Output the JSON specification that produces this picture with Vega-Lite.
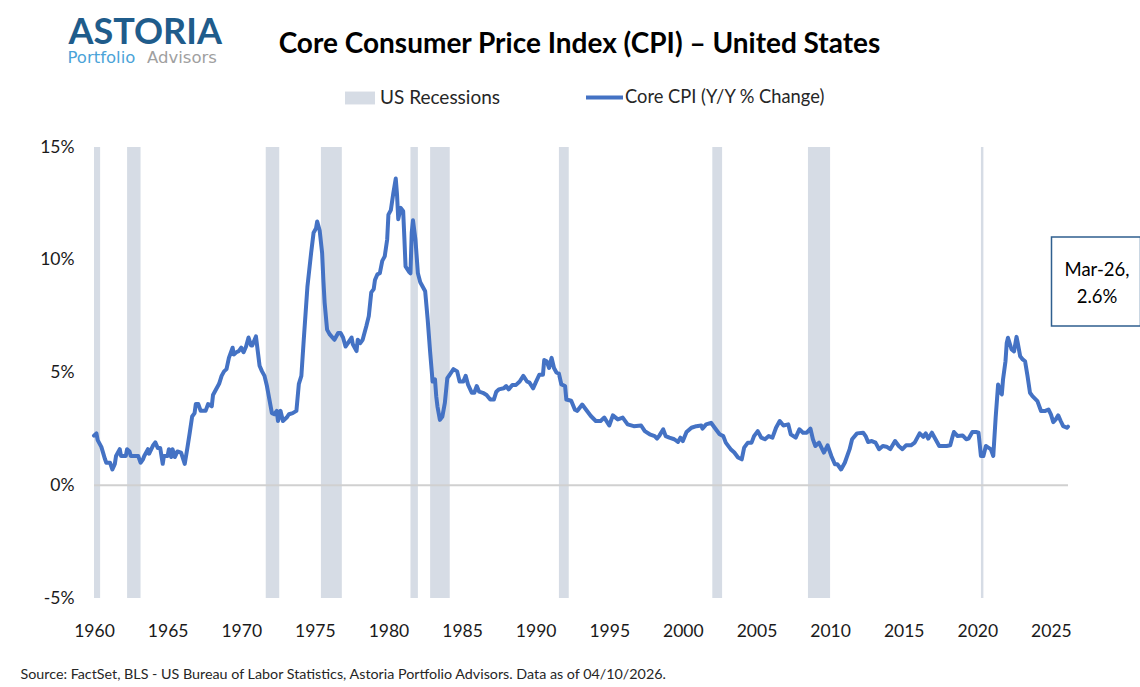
{
  "$schema": "https://vega.github.io/schema/vega-lite/v6.json",
  "width": 974,
  "height": 451,
  "autosize": {"type": "none"},
  "padding": {"left": 94, "top": 147, "right": 72, "bottom": 89},
  "background": "#ffffff",
  "config": {
    "view": {"stroke": null},
    "font": "Lato",
    "axis": {"grid": false, "domain": false, "ticks": false, "tickSize": 0}
  },
  "title": {
    "text": "Advisors",
    "anchor": "start",
    "frame": "bounds",
    "offset": 0,
    "dx": 127,
    "dy": 65,
    "baseline": "alphabetic",
    "font": "DejaVu Sans",
    "fontSize": 16.5,
    "fontWeight": "normal",
    "color": "#a0a0a0"
  },
  "datasets": {
    "cpi": [
      {"date":"1960-01","v":2.2},{"date":"1960-03","v":2.3},{"date":"1960-04","v":2.0},{"date":"1960-07","v":1.7},{"date":"1960-10","v":1.15},{"date":"1960-11","v":1.0},
      {"date":"1961-02","v":1.0},{"date":"1961-04","v":0.7},{"date":"1961-06","v":0.95},{"date":"1961-07","v":1.3},{"date":"1961-10","v":1.6},{"date":"1961-11","v":1.3},
      {"date":"1962-03","v":1.3},{"date":"1962-04","v":1.6},{"date":"1962-06","v":1.5},{"date":"1962-07","v":1.3},
      {"date":"1963-01","v":1.3},{"date":"1963-03","v":1.0},{"date":"1963-05","v":1.15},{"date":"1963-06","v":1.3},{"date":"1963-09","v":1.6},{"date":"1963-10","v":1.4},
      {"date":"1964-01","v":1.75},{"date":"1964-03","v":1.9},{"date":"1964-05","v":1.65},{"date":"1964-07","v":1.65},{"date":"1964-09","v":0.95},{"date":"1964-10","v":1.3},
      {"date":"1965-01","v":1.3},{"date":"1965-02","v":1.6},{"date":"1965-04","v":1.25},{"date":"1965-05","v":1.6},{"date":"1965-07","v":1.25},{"date":"1965-09","v":1.5},{"date":"1965-12","v":1.45},
      {"date":"1966-03","v":0.95},{"date":"1966-05","v":1.6},{"date":"1966-07","v":2.3},{"date":"1966-09","v":3.05},{"date":"1966-11","v":3.2},{"date":"1966-12","v":3.6},
      {"date":"1967-02","v":3.6},{"date":"1967-04","v":3.3},{"date":"1967-08","v":3.3},{"date":"1967-10","v":3.6},
      {"date":"1968-01","v":3.5},{"date":"1968-02","v":4.0},{"date":"1968-05","v":4.3},{"date":"1968-07","v":4.5},{"date":"1968-09","v":4.85},{"date":"1968-11","v":5.05},
      {"date":"1969-01","v":5.15},{"date":"1969-03","v":5.65},{"date":"1969-06","v":6.1},{"date":"1969-07","v":5.8},{"date":"1969-09","v":5.9},{"date":"1969-11","v":5.95},
      {"date":"1970-01","v":6.1},{"date":"1970-03","v":5.9},{"date":"1970-05","v":6.15},{"date":"1970-07","v":6.55},{"date":"1970-09","v":6.2},{"date":"1970-10","v":6.2},
      {"date":"1971-01","v":6.6},{"date":"1971-02","v":6.15},{"date":"1971-04","v":5.3},{"date":"1971-06","v":5.05},{"date":"1971-08","v":4.85},{"date":"1971-10","v":4.4},
      {"date":"1972-01","v":3.5},{"date":"1972-02","v":3.2},{"date":"1972-04","v":3.15},{"date":"1972-06","v":3.3},{"date":"1972-07","v":2.85},{"date":"1972-09","v":3.3},{"date":"1972-11","v":2.85},
      {"date":"1973-02","v":3.0},{"date":"1973-04","v":3.15},{"date":"1973-07","v":3.2},{"date":"1973-10","v":3.3},{"date":"1973-12","v":4.5},
      {"date":"1974-02","v":4.85},{"date":"1974-04","v":6.45},{"date":"1974-07","v":8.8},{"date":"1974-10","v":10.3},{"date":"1974-12","v":11.2},
      {"date":"1975-02","v":11.4},{"date":"1975-03","v":11.7},{"date":"1975-05","v":11.3},{"date":"1975-07","v":10.3},{"date":"1975-08","v":9.1},{"date":"1975-09","v":8.1},{"date":"1975-11","v":6.9},
      {"date":"1976-01","v":6.7},{"date":"1976-05","v":6.45},{"date":"1976-08","v":6.75},{"date":"1976-10","v":6.75},{"date":"1976-12","v":6.55},
      {"date":"1977-02","v":6.15},{"date":"1977-04","v":6.3},{"date":"1977-07","v":6.55},{"date":"1977-08","v":6.25},{"date":"1977-11","v":5.95},{"date":"1977-12","v":6.45},
      {"date":"1978-02","v":6.3},{"date":"1978-04","v":6.45},{"date":"1978-07","v":7.05},{"date":"1978-09","v":7.5},{"date":"1978-11","v":8.55},
      {"date":"1979-01","v":8.7},{"date":"1979-02","v":9.1},{"date":"1979-04","v":9.35},{"date":"1979-06","v":9.4},{"date":"1979-08","v":9.95},{"date":"1979-10","v":10.15},{"date":"1979-12","v":10.9},
      {"date":"1980-01","v":12.0},{"date":"1980-03","v":12.2},{"date":"1980-05","v":12.95},{"date":"1980-07","v":13.6},{"date":"1980-08","v":12.9},{"date":"1980-09","v":11.8},{"date":"1980-11","v":12.3},
      {"date":"1981-01","v":12.15},{"date":"1981-02","v":10.9},{"date":"1981-03","v":9.7},{"date":"1981-06","v":9.45},{"date":"1981-07","v":9.4},{"date":"1981-08","v":11.2},{"date":"1981-09","v":11.75},{"date":"1981-11","v":10.9},
      {"date":"1982-01","v":9.4},{"date":"1982-03","v":9.0},{"date":"1982-05","v":8.8},{"date":"1982-07","v":8.6},{"date":"1982-09","v":7.35},{"date":"1982-11","v":5.9},
      {"date":"1983-01","v":4.6},{"date":"1983-03","v":4.7},{"date":"1983-04","v":3.95},{"date":"1983-05","v":3.5},{"date":"1983-07","v":2.9},{"date":"1983-09","v":3.05},{"date":"1983-11","v":3.65},
      {"date":"1984-01","v":4.75},{"date":"1984-03","v":4.9},{"date":"1984-06","v":5.15},{"date":"1984-09","v":5.05},{"date":"1984-11","v":4.6},
      {"date":"1985-02","v":4.6},{"date":"1985-04","v":4.85},{"date":"1985-06","v":4.45},{"date":"1985-09","v":4.1},{"date":"1985-11","v":4.1},
      {"date":"1986-01","v":4.4},{"date":"1986-03","v":4.15},{"date":"1986-06","v":4.1},{"date":"1986-09","v":4.0},{"date":"1986-12","v":3.8},
      {"date":"1987-03","v":3.8},{"date":"1987-05","v":4.15},{"date":"1987-07","v":4.25},{"date":"1987-11","v":4.3},
      {"date":"1988-01","v":4.4},{"date":"1988-03","v":4.25},{"date":"1988-06","v":4.45},{"date":"1988-09","v":4.45},{"date":"1988-12","v":4.6},
      {"date":"1989-03","v":4.85},{"date":"1989-06","v":4.6},{"date":"1989-08","v":4.55},{"date":"1989-11","v":4.3},
      {"date":"1990-01","v":4.55},{"date":"1990-04","v":4.9},{"date":"1990-07","v":4.9},{"date":"1990-08","v":5.55},{"date":"1990-10","v":5.5},{"date":"1990-12","v":5.2},
      {"date":"1991-02","v":5.65},{"date":"1991-04","v":5.2},{"date":"1991-06","v":5.0},{"date":"1991-08","v":4.95},{"date":"1991-10","v":4.47},
      {"date":"1992-01","v":4.4},{"date":"1992-02","v":3.8},{"date":"1992-06","v":3.75},{"date":"1992-09","v":3.35},{"date":"1992-11","v":3.3},
      {"date":"1993-03","v":3.58},{"date":"1993-06","v":3.36},{"date":"1993-10","v":3.07},
      {"date":"1994-02","v":2.85},{"date":"1994-06","v":2.85},{"date":"1994-09","v":3.0},
      {"date":"1995-01","v":2.65},{"date":"1995-04","v":3.1},{"date":"1995-08","v":2.92},{"date":"1995-12","v":3.0},
      {"date":"1996-04","v":2.7},{"date":"1996-09","v":2.62},
      {"date":"1997-03","v":2.65},{"date":"1997-06","v":2.4},{"date":"1997-10","v":2.26},
      {"date":"1998-02","v":2.18},{"date":"1998-04","v":2.07},{"date":"1998-06","v":2.21},{"date":"1998-09","v":2.48},{"date":"1998-11","v":2.18},
      {"date":"1999-02","v":2.11},{"date":"1999-06","v":2.04},{"date":"1999-09","v":1.92},{"date":"1999-11","v":2.11},
      {"date":"2000-01","v":1.96},{"date":"2000-04","v":2.36},{"date":"2000-08","v":2.55},{"date":"2000-12","v":2.62},
      {"date":"2001-04","v":2.65},{"date":"2001-05","v":2.51},{"date":"2001-08","v":2.7},{"date":"2001-12","v":2.77},
      {"date":"2002-03","v":2.55},{"date":"2002-07","v":2.26},{"date":"2002-10","v":2.18},{"date":"2002-12","v":1.89},
      {"date":"2003-04","v":1.6},{"date":"2003-07","v":1.45},{"date":"2003-10","v":1.23},
      {"date":"2004-01","v":1.15},{"date":"2004-03","v":1.67},{"date":"2004-06","v":1.89},{"date":"2004-09","v":1.89},{"date":"2004-11","v":2.18},
      {"date":"2005-02","v":2.4},{"date":"2005-05","v":2.11},{"date":"2005-08","v":2.04},{"date":"2005-11","v":2.18},
      {"date":"2006-02","v":2.11},{"date":"2006-05","v":2.55},{"date":"2006-08","v":2.85},{"date":"2006-11","v":2.65},
      {"date":"2007-03","v":2.7},{"date":"2007-05","v":2.26},{"date":"2007-09","v":2.11},{"date":"2007-12","v":2.48},
      {"date":"2008-03","v":2.33},{"date":"2008-06","v":2.33},{"date":"2008-09","v":2.51},{"date":"2008-11","v":2.04},
      {"date":"2009-01","v":1.74},{"date":"2009-04","v":1.89},{"date":"2009-08","v":1.45},{"date":"2009-11","v":1.77},
      {"date":"2010-02","v":1.3},{"date":"2010-05","v":0.93},{"date":"2010-07","v":0.93},{"date":"2010-10","v":0.7},
      {"date":"2011-01","v":1.0},{"date":"2011-02","v":1.15},{"date":"2011-05","v":1.6},{"date":"2011-07","v":2.04},{"date":"2011-11","v":2.3},
      {"date":"2012-04","v":2.33},{"date":"2012-06","v":2.18},{"date":"2012-08","v":1.92},{"date":"2012-11","v":1.96},
      {"date":"2013-02","v":1.89},{"date":"2013-05","v":1.6},{"date":"2013-08","v":1.74},{"date":"2013-11","v":1.71},
      {"date":"2014-02","v":1.6},{"date":"2014-06","v":1.96},{"date":"2014-09","v":1.74},{"date":"2014-12","v":1.6},
      {"date":"2015-03","v":1.77},{"date":"2015-07","v":1.77},{"date":"2015-10","v":1.89},
      {"date":"2016-02","v":2.3},{"date":"2016-05","v":2.15},{"date":"2016-07","v":2.3},{"date":"2016-09","v":2.07},{"date":"2016-12","v":2.33},
      {"date":"2017-03","v":2.04},{"date":"2017-06","v":1.74},{"date":"2017-12","v":1.74},
      {"date":"2018-03","v":1.77},{"date":"2018-05","v":2.18},{"date":"2018-06","v":2.36},{"date":"2018-09","v":2.18},
      {"date":"2019-01","v":2.21},{"date":"2019-04","v":2.04},{"date":"2019-06","v":2.07},{"date":"2019-09","v":2.36},{"date":"2019-12","v":2.36},
      {"date":"2020-02","v":2.33},{"date":"2020-04","v":1.3},{"date":"2020-06","v":1.3},{"date":"2020-08","v":1.74},{"date":"2020-10","v":1.67},{"date":"2020-12","v":1.6},
      {"date":"2021-02","v":1.3},{"date":"2021-04","v":3.0},{"date":"2021-06","v":4.47},{"date":"2021-08","v":4.1},{"date":"2021-09","v":4.03},{"date":"2021-10","v":4.69},{"date":"2021-12","v":5.5},
      {"date":"2022-01","v":6.31},{"date":"2022-02","v":6.54},{"date":"2022-05","v":6.02},{"date":"2022-07","v":5.94},{"date":"2022-09","v":6.58},{"date":"2022-10","v":6.31},{"date":"2022-12","v":5.72},
      {"date":"2023-02","v":5.58},{"date":"2023-04","v":5.5},{"date":"2023-06","v":4.84},{"date":"2023-08","v":4.1},{"date":"2023-10","v":3.95},
      {"date":"2024-02","v":3.73},{"date":"2024-05","v":3.29},{"date":"2024-08","v":3.29},{"date":"2024-11","v":3.36},
      {"date":"2025-01","v":3.14},{"date":"2025-03","v":2.8},{"date":"2025-05","v":2.92},{"date":"2025-07","v":3.1},{"date":"2025-09","v":2.85},{"date":"2025-11","v":2.62},
      {"date":"2026-02","v":2.55},{"date":"2026-03","v":2.6}
    ],
    "rec": [
      {"start":"1960-01","end":"1960-06"},
      {"start":"1962-04","end":"1963-03"},
      {"start":"1971-09","end":"1972-08"},
      {"start":"1975-06","end":"1976-11"},
      {"start":"1981-07","end":"1982-01"},
      {"start":"1982-11","end":"1984-03"},
      {"start":"1991-08","end":"1992-04"},
      {"start":"2002-01","end":"2002-09"},
      {"start":"2008-07","end":"2010-01"},
      {"start":"2020-04","end":"2020-06"}
    ],
    "last": [
      {"date":"2026-03","v":2.6,"label":"Mar-26,\n2.6%"}
    ]
  },
  "layer": [
    {
      "layer": [
        {
          "data": {"name": "rec"},
          "mark": {"type": "rect"},
          "encoding": {
            "x": {
              "field": "start",
              "type": "temporal",
              "scale": {"type": "utc", "domain": [{"year": 1960, "month": 1, "date": 1, "utc": true}, {"year": 2026, "month": 3, "date": 1, "utc": true}]},
              "axis": {
                "orient": "bottom",
                "format": "%Y",
                "tickCount": {"interval": "year", "step": 5},
                "labelFlush": false,
                "labelOverlap": false,
                "labelFontSize": 17.5,
                "labelColor": "#1a1a1a",
                "labelPadding": 24,
                "title": "Source: FactSet, BLS - US Bureau of Labor Statistics, Astoria Portfolio Advisors. Data as of 04/10/2026.",
                "titleX": -74,
                "titleY": 80,
                "titleAlign": "left",
                "titleAnchor": "start",
                "titleBaseline": "alphabetic",
                "titleFontSize": 14.3,
                "titleFontWeight": "normal",
                "titleColor": "#262626"
              }
            },
            "x2": {"field": "end"},
            "fill": {
              "datum": "US Recessions",
              "scale": {"range": ["#d6dce5"]},
              "legend": {
                "orient": "none",
                "legendX": 251,
                "legendY": -64,
                "title": null,
                "symbolType": "M-1,-0.43H1V0.43H-1Z",
                "symbolSize": 900,
                "symbolStrokeWidth": 0,
                "labelFontSize": 19,
                "labelColor": "#262626",
                "labelOffset": 5,
                "labelLimit": 400,
                "padding": 0
              }
            }
          }
        },
        {
          "data": {"values": [{}]},
          "mark": {"type": "rule", "color": "#d0d0d0", "strokeWidth": 2},
          "encoding": {"y": {"datum": 0, "type": "quantitative"}}
        },
        {
          "data": {"name": "cpi"},
          "mark": {"type": "line", "strokeWidth": 4, "strokeJoin": "round", "strokeCap": "round"},
          "encoding": {
            "x": {"field": "date", "type": "temporal"},
            "y": {
              "field": "v",
              "type": "quantitative",
              "scale": {"domain": [-5, 15], "nice": false, "zero": false},
              "axis": {
                "values": [-5, 0, 5, 10, 15],
                "labelExpr": "datum.value + '%'",
                "labelFontSize": 17.5,
                "labelColor": "#1a1a1a",
                "labelPadding": 20,
                "title": "ASTORIA",
                "titleAngle": 0,
                "titleX": -26,
                "titleY": -104,
                "titleAlign": "left",
                "titleBaseline": "alphabetic",
                "titleFontSize": 36,
                "titleFontWeight": "bold",
                "titleColor": "#1f5c8b"
              }
            },
            "stroke": {
              "datum": "Core CPI (Y/Y % Change)",
              "scale": {"range": ["#4472c4"]},
              "legend": {
                "orient": "none",
                "legendX": 490,
                "legendY": -70,
                "title": null,
                "symbolType": "stroke",
                "symbolSize": 1369,
                "symbolStrokeWidth": 4,
                "labelFontSize": 18.3,
                "labelColor": "#262626",
                "labelOffset": 0,
                "labelLimit": 400,
                "padding": 0
              }
            }
          }
        }
      ]
    },
    {
      "data": {"name": "last"},
      "encoding": {
        "x": {
          "field": "date",
          "type": "temporal",
          "scale": {"type": "utc", "domain": [{"year": 1960, "month": 1, "date": 1, "utc": true}, {"year": 2026, "month": 3, "date": 1, "utc": true}]},
          "axis": {
            "orient": "top",
            "labels": false,
            "title": "Core Consumer Price Index (CPI) – United States",
            "titleX": 485,
            "titleY": -95,
            "titleAlign": "center",
            "titleAnchor": "middle",
            "titleBaseline": "alphabetic",
            "titleFontSize": 28,
            "titleFontWeight": "bold",
            "titleColor": "#000000"
          }
        },
        "y": {
          "field": "v",
          "type": "quantitative",
          "scale": {"domain": [-5, 15], "nice": false, "zero": false},
          "axis": {
            "orient": "right",
            "labels": false,
            "title": "Portfolio",
            "titleAngle": 0,
            "titleX": -1001,
            "titleY": -85,
            "titleAlign": "left",
            "titleBaseline": "alphabetic",
            "titleFont": "DejaVu Sans",
            "titleFontSize": 16.5,
            "titleFontWeight": "normal",
            "titleColor": "#4aa3d8"
          }
        }
      },
      "layer": [
        {
          "mark": {"type": "point", "shape": "square", "size": 7921, "filled": true, "fill": "#ffffff", "stroke": "#2f5f8f", "strokeWidth": 1.5, "opacity": 1, "xOffset": 28, "yOffset": -145}
        },
        {
          "mark": {"type": "text", "dx": 29, "dy": -157, "lineBreak": "\n", "fontSize": 18.5, "lineHeight": 27, "align": "center", "baseline": "middle", "color": "#000000"},
          "encoding": {"text": {"field": "label"}}
        }
      ]
    }
  ],
  "resolve": {"scale": {"x": "independent", "y": "independent"}}
}
